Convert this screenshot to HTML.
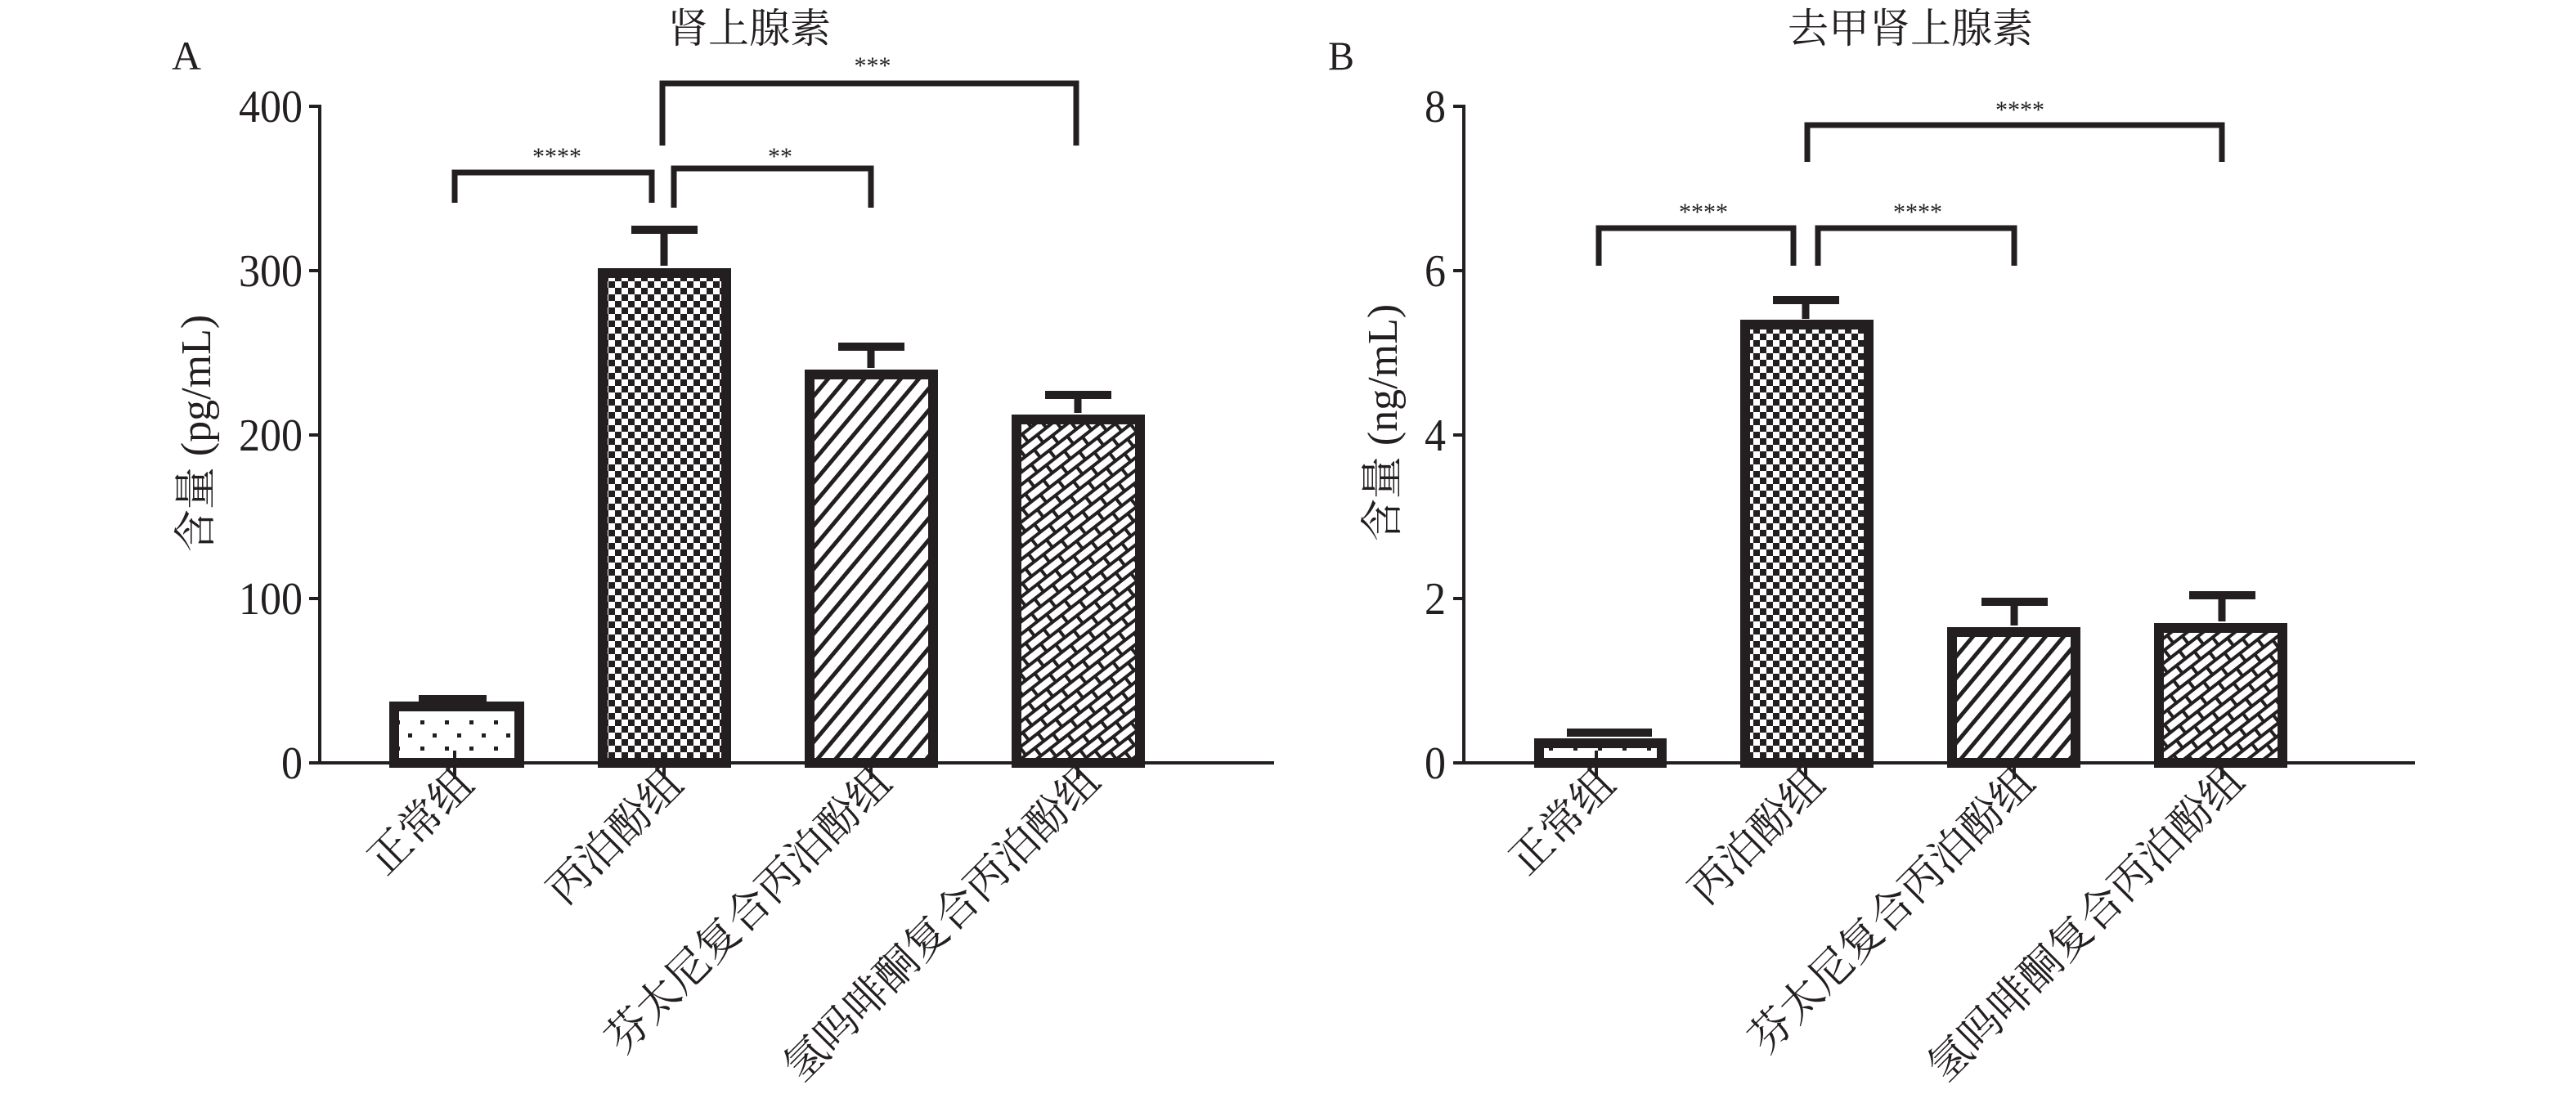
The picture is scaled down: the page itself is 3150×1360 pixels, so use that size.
<!DOCTYPE html>
<html><head><meta charset="utf-8"><style>
html,body{margin:0;padding:0;background:#fff;}
svg{display:block;}
.t{font-family:"Liberation Serif","Noto Serif CJK SC",serif;fill:#231f20;}
.c{font-family:"Liberation Serif","Noto Serif CJK SC","Noto Sans CJK SC",serif;fill:#231f20;}
</style></head><body>
<svg width="3150" height="1360" viewBox="0 0 3150 1360" xmlns="http://www.w3.org/2000/svg">
<defs>
<pattern id="dots" width="30" height="32" patternUnits="userSpaceOnUse" x="0" y="877">
<rect x="4" y="4" width="5" height="5" fill="#231f20"/>
<rect x="19" y="20" width="5" height="5" fill="#231f20"/>
</pattern>
<pattern id="chk" width="16" height="16" patternUnits="userSpaceOnUse">
<rect width="16" height="16" fill="#fff"/>
<rect width="8" height="8" fill="#231f20"/>
<rect x="8" y="8" width="8" height="8" fill="#231f20"/>
</pattern>
<pattern id="hatch" width="17" height="17" patternUnits="userSpaceOnUse" patternTransform="rotate(40)">
<rect width="17" height="17" fill="#fff"/>
<rect x="0" y="0" width="5" height="17" fill="#231f20"/>
</pattern>
<pattern id="brick" width="28" height="24" patternUnits="userSpaceOnUse" patternTransform="rotate(-38)">
<rect width="28" height="24" fill="#231f20"/>
<rect x="2" y="2" width="24" height="8" fill="#fff"/>
<rect x="16" y="14" width="24" height="8" fill="#fff"/>
<rect x="-12" y="14" width="24" height="8" fill="#fff"/>
</pattern>
</defs>

<g stroke="#231f20" fill="none">
<line x1="391" y1="128" x2="391" y2="935" stroke-width="4"/>
<line x1="389" y1="933" x2="1558" y2="933" stroke-width="4"/>
<g stroke-width="4">
<line x1="378" y1="130" x2="391" y2="130"/><line x1="378" y1="331" x2="391" y2="331"/>
<line x1="378" y1="532" x2="391" y2="532"/><line x1="378" y1="732" x2="391" y2="732"/>
<line x1="378" y1="933" x2="391" y2="933"/>
<line x1="556" y1="918" x2="556" y2="953"/><line x1="812" y1="918" x2="812" y2="953"/>
<line x1="1065" y1="918" x2="1065" y2="953"/><line x1="1318" y1="918" x2="1318" y2="953"/>
</g>
<line x1="1790" y1="128" x2="1790" y2="935" stroke-width="4"/>
<line x1="1788" y1="933" x2="2953" y2="933" stroke-width="4"/>
<g stroke-width="4">
<line x1="1777" y1="130" x2="1790" y2="130"/><line x1="1777" y1="331" x2="1790" y2="331"/>
<line x1="1777" y1="532" x2="1790" y2="532"/><line x1="1777" y1="732" x2="1790" y2="732"/>
<line x1="1777" y1="933" x2="1790" y2="933"/>
<line x1="1952" y1="918" x2="1952" y2="953"/><line x1="2208" y1="918" x2="2208" y2="953"/>
<line x1="2463" y1="918" x2="2463" y2="953"/><line x1="2717" y1="918" x2="2717" y2="953"/>
</g>
</g>

<g stroke="#231f20" stroke-width="12">
<rect x="482" y="864" width="153" height="69" fill="url(#dots)"/>
<line x1="812" y1="284" x2="812" y2="325" stroke-width="9"/>
<rect x="737" y="334" width="151" height="599" fill="url(#chk)"/>
<line x1="1065" y1="427" x2="1065" y2="450" stroke-width="9"/>
<rect x="990" y="458" width="151" height="475" fill="url(#hatch)"/>
<line x1="1318" y1="486" x2="1318" y2="505" stroke-width="9"/>
<rect x="1243" y="513" width="151" height="420" fill="url(#brick)"/>
</g>
<g fill="#231f20">
<rect x="512" y="850" width="83" height="10"/>
<rect x="772" y="276" width="81" height="10"/>
<rect x="1025" y="419" width="81" height="10"/>
<rect x="1278" y="478" width="81" height="10"/>
</g>

<g stroke="#231f20" stroke-width="12">
<rect x="1882" y="909" width="150" height="24" fill="url(#dots)"/>
<line x1="2208" y1="370" x2="2208" y2="390" stroke-width="9"/>
<rect x="2134" y="397" width="151" height="536" fill="url(#chk)"/>
<line x1="2463" y1="739" x2="2463" y2="765" stroke-width="9"/>
<rect x="2387" y="773" width="151" height="160" fill="url(#hatch)"/>
<line x1="2717" y1="731" x2="2717" y2="760" stroke-width="9"/>
<rect x="2640" y="768" width="151" height="165" fill="url(#brick)"/>
</g>
<g fill="#231f20">
<rect x="1916" y="891" width="104" height="10"/>
<rect x="2168" y="362" width="81" height="10"/>
<rect x="2423" y="731" width="81" height="10"/>
<rect x="2677" y="723" width="81" height="10"/>
</g>

<g stroke="#231f20" stroke-width="7" fill="none">
<polyline points="556,248 556,211 797,211 797,248"/>
<polyline points="824,254 824,206 1065,206 1065,254"/>
<polyline points="810,178 810,102 1316,102 1316,178"/>
<polyline points="1955,325 1955,279 2193,279 2193,325"/>
<polyline points="2223,325 2223,279 2463,279 2463,325"/>
<polyline points="2210,198 2210,153 2717,153 2717,198"/>
</g>
<g class="t" font-size="30" text-anchor="middle">
<text x="681" y="201">****</text>
<text x="954" y="201">**</text>
<text x="1067" y="90">***</text>
<text x="2083" y="269">****</text>
<text x="2345" y="269">****</text>
<text x="2470" y="144">****</text>
</g>

<g class="c" font-size="50" text-anchor="middle">
<text x="916" y="52">肾上腺素</text>
<text x="2336" y="52">去甲肾上腺素</text>
</g>
<g class="t" font-size="50">
<text x="210" y="85" textLength="36" lengthAdjust="spacingAndGlyphs">A</text>
<text x="1624" y="85" textLength="32" lengthAdjust="spacingAndGlyphs">B</text>
</g>

<g class="t" font-size="56" text-anchor="end">
<text x="370" y="149" textLength="78" lengthAdjust="spacingAndGlyphs">400</text>
<text x="370" y="350" textLength="78" lengthAdjust="spacingAndGlyphs">300</text>
<text x="370" y="551" textLength="78" lengthAdjust="spacingAndGlyphs">200</text>
<text x="370" y="751" textLength="78" lengthAdjust="spacingAndGlyphs">100</text>
<text x="370" y="952" textLength="26" lengthAdjust="spacingAndGlyphs">0</text>
<text x="1768" y="149" textLength="26" lengthAdjust="spacingAndGlyphs">8</text>
<text x="1768" y="350" textLength="26" lengthAdjust="spacingAndGlyphs">6</text>
<text x="1768" y="551" textLength="26" lengthAdjust="spacingAndGlyphs">4</text>
<text x="1768" y="751" textLength="26" lengthAdjust="spacingAndGlyphs">2</text>
<text x="1768" y="952" textLength="26" lengthAdjust="spacingAndGlyphs">0</text>
</g>

<text class="c" font-size="52" text-anchor="middle" transform="translate(257,530) rotate(-90)">含量 (pg/mL)</text>
<text class="c" font-size="52" text-anchor="middle" transform="translate(1708,517) rotate(-90)">含量 (ng/mL)</text>

<g class="c" font-size="52" text-anchor="end">
<text transform="translate(582,962) rotate(-45)">正常组</text>
<text transform="translate(838,962) rotate(-45)">丙泊酚组</text>
<text transform="translate(1093,960) rotate(-45)">芬太尼复合丙泊酚组</text>
<text transform="translate(1348,958) rotate(-45)">氢吗啡酮复合丙泊酚组</text>
<text transform="translate(1978,962) rotate(-45)">正常组</text>
<text transform="translate(2234,962) rotate(-45)">丙泊酚组</text>
<text transform="translate(2491,960) rotate(-45)">芬太尼复合丙泊酚组</text>
<text transform="translate(2747,958) rotate(-45)">氢吗啡酮复合丙泊酚组</text>
</g>
</svg>
</body></html>
